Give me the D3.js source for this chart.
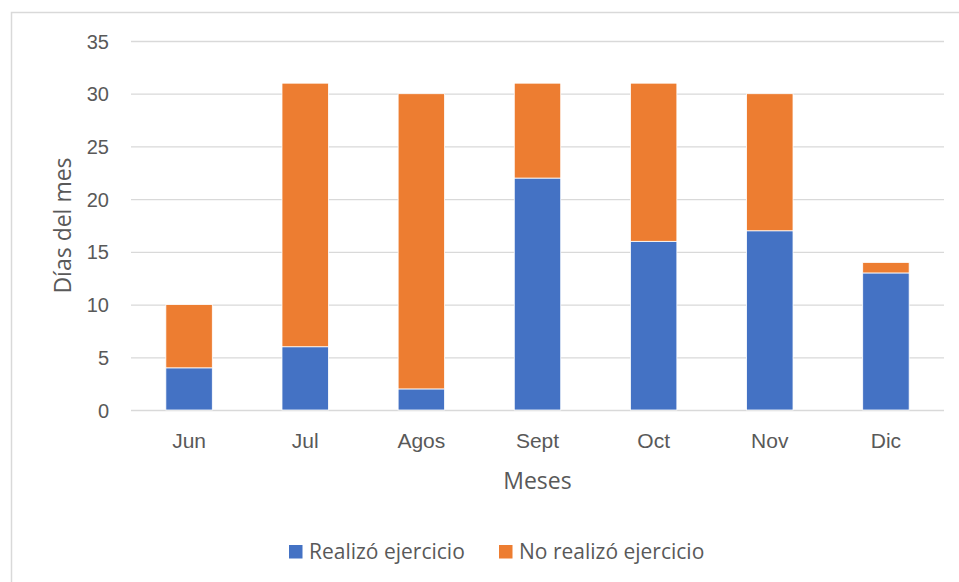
<!DOCTYPE html>
<html>
<head>
<meta charset="utf-8">
<script src="https://cdn.jsdelivr.net/npm/d3@7"></script>
<style>
  html, body { margin: 0; padding: 0; background: #fff; }
  svg { display: block; font-family: "Open Sans", "Noto Sans", "Liberation Sans", sans-serif; }
</style>
</head>
<body>
<svg id="chart" width="959" height="582"></svg>
<script>
// Monthly exercise record
const months = ["Jun", "Jul", "Agos", "Sept", "Oct", "Nov", "Dic"];
const didExercise = [4, 6, 2, 22, 16, 17, 13];
const noExercise = [6, 25, 28, 9, 15, 13, 1];
const seriesNames = ["Realizó ejercicio", "No realizó ejercicio"];
const seriesColors = ["#4472C4", "#ED7D31"];
const yTicks = [0, 5, 10, 15, 20, 25, 30, 35];

const svg = d3.select("#chart");
const margin = { left: 131, right: 944, top: 41, bottom: 410 };

// outer chart frame
svg.append("rect")
  .attr("x", 11.5).attr("y", 12.5)
  .attr("width", 960).attr("height", 600)
  .attr("fill", "#fff").attr("stroke", "#d9d9d9").attr("stroke-width", 1.5);

const x = d3.scaleBand().domain(months).range([margin.left, margin.right]).paddingInner(0.6).paddingOuter(0.3);
const y = d3.scaleLinear().domain([0, 35]).range([margin.bottom, margin.top]);

// gridlines
const yAxis = d3.axisLeft(y).tickValues(yTicks).tickSize(-(margin.right - margin.left)).tickPadding(22);
const gy = svg.append("g").attr("transform", `translate(${margin.left},0)`).call(yAxis);
gy.select(".domain").remove();
gy.selectAll(".tick line").attr("stroke", "#d9d9d9").attr("stroke-width", 1.3);
gy.selectAll(".tick text").attr("fill", "#595959").style("font-size", "20px").attr("dy", "0.35em");

// stacked data
const rows = months.map((m, i) => ({ month: m, a: didExercise[i], b: noExercise[i] }));
const stack = d3.stack().keys(["a", "b"])(rows);

svg.append("g").selectAll("g").data(stack).join("g")
  .attr("fill", (d, i) => seriesColors[i])
  .selectAll("rect").data(d => d).join("rect")
  .attr("x", d => x(d.data.month))
  .attr("width", x.bandwidth())
  .attr("y", d => y(d[1]))
  .attr("height", d => y(d[0]) - y(d[1]))
  .attr("stroke", "#fff").attr("stroke-width", 0.8);

// x axis labels
const xAxis = d3.axisBottom(x).tickSize(0).tickPadding(23);
const gx = svg.append("g").attr("transform", `translate(0,${margin.bottom})`).call(xAxis);
gx.select(".domain").remove();
gx.selectAll(".tick text").attr("fill", "#595959").style("font-size", "21px");

// axis titles
svg.append("text")
  .attr("x", (margin.left + margin.right) / 2).attr("y", 489)
  .attr("text-anchor", "middle").attr("fill", "#595959").style("font-size", "23px")
  .text("Meses");
svg.append("text")
  .attr("transform", `translate(71,${(margin.top + margin.bottom) / 2}) rotate(-90)`)
  .attr("text-anchor", "middle").attr("fill", "#595959").style("font-size", "23px")
  .text("Días del mes");

// legend
const legendItems = [{ x: 289 }, { x: 499 }];
const lg = svg.append("g");
legendItems.forEach((it, i) => {
  lg.append("rect").attr("x", it.x).attr("y", 545).attr("width", 13.5).attr("height", 13.5).attr("fill", seriesColors[i]);
  lg.append("text").attr("x", it.x + 20).attr("y", 559)
    .attr("fill", "#595959").style("font-size", "21px").text(seriesNames[i]);
});
</script>
</body>
</html>
